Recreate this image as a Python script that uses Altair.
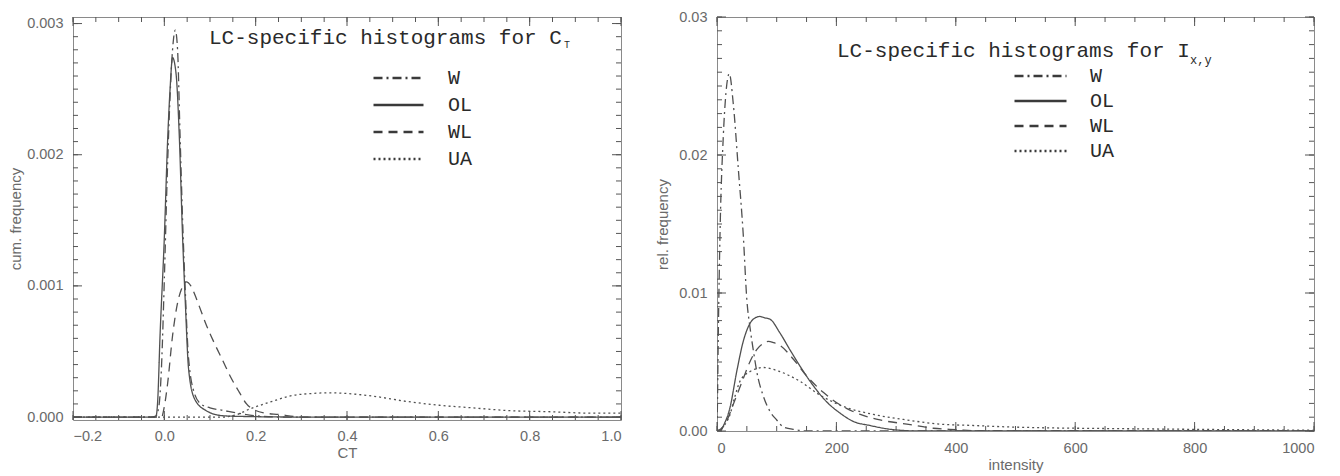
import altair as alt
import pandas as pd

SERIES = ["W", "OL", "WL", "UA"]
DASHES = [[9, 4, 2, 4], [1, 0], [9, 6], [2, 3]]

# ---- left panel: CT ----
ct_W_x = [-0.2, -0.02, -0.012, -0.006, 0.0, 0.006, 0.012, 0.018, 0.024, 0.029, 0.034, 0.040, 0.046, 0.053, 0.066, 0.08, 0.1, 0.13, 0.16, 0.2, 0.25, 1.0]
ct_W_y = [0, 0, 0.00008, 0.0004, 0.00105, 0.0018, 0.0024, 0.0028, 0.00295, 0.0028, 0.0022, 0.0015, 0.00095, 0.00045, 0.00018, 0.0001, 0.00007, 0.00005, 0.00003, 0.00001, 0, 0]
ct_OL_x = [-0.2, -0.03, -0.018, -0.0146, -0.0094, 0.0, 0.0073, 0.0124, 0.018, 0.0256, 0.033, 0.040, 0.046, 0.053, 0.066, 0.091, 0.128, 0.164, 0.3, 1.0]
ct_OL_y = [0, 0, 0.00001, 0.00012, 0.00062, 0.00137, 0.00212, 0.00249, 0.00274, 0.00262, 0.00212, 0.00137, 0.00087, 0.00037, 0.00014, 0.00005, 0.00001, 0.000005, 0, 0]
ct_WL_x = [-0.2, -0.006, 0.0, 0.007, 0.018, 0.029, 0.037, 0.048, 0.058, 0.066, 0.077, 0.091, 0.11, 0.128, 0.146, 0.164, 0.18, 0.2, 0.22, 0.25, 0.3, 1.0]
ct_WL_y = [0, 0, 0.00008, 0.00025, 0.00062, 0.00087, 0.00097, 0.00103, 0.001, 0.00094, 0.00084, 0.00071, 0.00056, 0.00043, 0.0003, 0.00019, 0.0001, 0.00005, 0.00003, 0.00002, 0, 0]
ct_UA_x = [-0.2, 0.13, 0.142, 0.16, 0.186, 0.21, 0.237, 0.274, 0.325, 0.36, 0.398, 0.456, 0.529, 0.602, 0.675, 0.75, 0.85, 0.93, 1.0]
ct_UA_y = [0, 0, 0.000005, 0.00002, 0.00006, 0.00009, 0.00012, 0.00016, 0.00018, 0.000185, 0.00018, 0.00016, 0.00012, 0.00009, 0.00007, 0.00005, 0.00004, 0.00003, 0.00003]

# ---- right panel: intensity ----
i_W_x = [0, 0.5, 2.2, 5, 10.6, 15, 20.6, 27.3, 35.7, 44, 50, 55.3, 61, 68, 77, 89, 100, 111, 130, 150, 1000]
i_W_y = [0, 0.0012, 0.0071, 0.0142, 0.0214, 0.0245, 0.0259, 0.0237, 0.019, 0.0142, 0.0095, 0.0075, 0.0058, 0.004, 0.0026, 0.0014, 0.0008, 0.0003, 0.0001, 0, 0]
i_OL_x = [0, 5, 12, 21.8, 33, 44, 55.3, 64, 72, 80, 88.8, 105.5, 122, 139, 161, 184, 206, 228, 256, 295, 340, 1000]
i_OL_y = [0, 0, 0.0005, 0.0017, 0.0043, 0.0065, 0.0078, 0.0082, 0.0083, 0.0082, 0.0081, 0.0071, 0.0059, 0.0047, 0.0033, 0.0021, 0.0013, 0.0007, 0.0004, 0.0001, 0, 0]
i_WL_x = [0, 8, 16, 27, 44, 55, 66.5, 76, 86, 95, 105.5, 128, 150, 178, 206, 240, 273, 318, 362, 400, 450, 1000]
i_WL_y = [0, 0.0002, 0.0007, 0.0019, 0.0038, 0.005, 0.0059, 0.0063, 0.0065, 0.0064, 0.0062, 0.0052, 0.004, 0.0028, 0.0019, 0.0012, 0.0008, 0.0005, 0.0002, 0.0001, 0, 0]
i_UA_x = [0, 10, 21.8, 30, 38.5, 55, 77.6, 105.5, 139, 172.5, 217, 262, 318, 373, 429, 485, 552, 650, 800, 1000]
i_UA_y = [0, 0.0003, 0.0012, 0.0025, 0.0036, 0.0043, 0.0046, 0.0043, 0.0036, 0.0026, 0.0017, 0.0012, 0.0008, 0.0005, 0.0004, 0.0003, 0.00023, 0.00018, 0.00012, 0.00005]

TITLE_CT = "LC-specific histograms for C"
SUB_CT = "T"
TITLE_I = "LC-specific histograms for I"
SUB_I = "x,y"

CT_XTICKS = [-0.2, 0.0, 0.2, 0.4, 0.6, 0.8, 1.0]
CT_XMINOR = [round(-0.2 + 0.05 * i, 3) for i in range(25)]
CT_YTICKS = [0.0, 0.001, 0.002, 0.003]
CT_YMINOR = [round(0.0001 * i, 5) for i in range(31)]
I_XTICKS = [0, 200, 400, 600, 800, 1000]
I_XMINOR = [50 * i for i in range(21)]
I_YTICKS = [0.0, 0.01, 0.02, 0.03]
I_YMINOR = [round(0.001 * i, 4) for i in range(31)]

W1, H1 = 548, 403
W2, H2 = 597, 414

LABEL_FONT = "Liberation Sans"
MONO = "Liberation Mono"
GREY = "#6a6a6a"


def long_df(parts):
    rows = []
    for name, xs, ys in parts:
        for a, b in zip(xs, ys):
            rows.append({"series": name, "x": a, "y": b})
    return pd.DataFrame(rows)


def axis(vals, fmt, title_pad, label_pad):
    return alt.Axis(values=vals, format=fmt, domain=False, ticks=False, grid=False,
                    labelFont=LABEL_FONT, labelFontSize=14.5, labelColor=GREY, labelPadding=label_pad,
                    titleFont=LABEL_FONT, titleFontSize=15, titleColor=GREY,
                    titleFontWeight="normal", titlePadding=title_pad)


def tick_layers(xmaj, xmin, ymaj, ymin, xenc, yenc, w, h):
    layers = []
    for vals, L in ((xmaj, 9), (xmin, 5)):
        base = alt.Chart(pd.DataFrame({"x": vals})).mark_rule(color="#555", strokeWidth=1)
        layers.append(base.encode(x=xenc, y=alt.value(h), y2=alt.value(h - L)))
        layers.append(base.encode(x=xenc, y=alt.value(0), y2=alt.value(L)))
    for vals, L in ((ymaj, 9), (ymin, 5)):
        base = alt.Chart(pd.DataFrame({"y": vals})).mark_rule(color="#555", strokeWidth=1)
        layers.append(base.encode(y=yenc, x=alt.value(0), x2=alt.value(L)))
        layers.append(base.encode(y=yenc, x=alt.value(w), x2=alt.value(w - L)))
    return layers


def legend(x, y, size, rowpad, offset):
    return alt.Legend(orient="none", legendX=x, legendY=y, title=None,
                      symbolType="stroke", symbolSize=size, symbolStrokeWidth=2.6,
                      symbolStrokeColor="#3a3a3a", labelFont=MONO, labelFontSize=20,
                      labelColor="#2a2a2a", rowPadding=rowpad, labelOffset=offset,
                      clipHeight=20, padding=0)


def text_layer(txt, x, y, size):
    return alt.Chart(pd.DataFrame({"t": [txt]})).mark_text(
        font=MONO, fontSize=size, color="#2a2a2a", align="left", baseline="alphabetic"
    ).encode(text="t:N", x=alt.value(x), y=alt.value(y))


dash_scale = alt.Scale(domain=SERIES, range=DASHES)

# left panel
ct_df = long_df([("W", ct_W_x, ct_W_y), ("OL", ct_OL_x, ct_OL_y),
                 ("WL", ct_WL_x, ct_WL_y), ("UA", ct_UA_x, ct_UA_y)])
ct_x = alt.X("x:Q", scale=alt.Scale(domain=[-0.2, 1.0], nice=False, zero=False),
             title="CT", axis=axis(CT_XTICKS, ".1f", 3, 9))
ct_y = alt.Y("y:Q", scale=alt.Scale(domain=[-0.0000225, 0.00305], nice=False, zero=False),
             title="cum. frequency", axis=axis(CT_YTICKS, ".3f", 3, 10))
ct_lines = alt.Chart(ct_df).mark_line(color="#505050", strokeWidth=1.3, interpolate="monotone", clip=True).encode(
    x=ct_x, y=ct_y,
    strokeDash=alt.StrokeDash("series:N", scale=dash_scale, legend=legend(299, 51, 2500, 7, 23)),
    order=alt.Order("x:Q"),
)
left = alt.layer(
    ct_lines,
    *tick_layers(CT_XTICKS, CT_XMINOR, CT_YTICKS, CT_YMINOR, ct_x, ct_y, W1, H1),
    text_layer(TITLE_CT, 136, 27, 21),
    text_layer(SUB_CT, 491, 31, 10),
).properties(width=W1, height=H1)

# right panel
i_df = long_df([("W", i_W_x, i_W_y), ("OL", i_OL_x, i_OL_y),
                ("WL", i_WL_x, i_WL_y), ("UA", i_UA_x, i_UA_y)])
i_x = alt.X("x:Q", scale=alt.Scale(domain=[0, 1000], nice=False, zero=False),
            title="intensity", axis=axis(I_XTICKS, "d", 3, 10))
i_y = alt.Y("y:Q", scale=alt.Scale(domain=[0, 0.03], nice=False, zero=False),
            title="rel. frequency", axis=axis(I_YTICKS, ".2f", 8, 10))
i_lines = alt.Chart(i_df).mark_line(color="#505050", strokeWidth=1.3, interpolate="monotone", clip=True).encode(
    x=i_x, y=i_y,
    strokeDash=alt.StrokeDash("series:N", scale=dash_scale, legend=legend(296, 49, 2704, 5, 22)),
    order=alt.Order("x:Q"),
)
right = alt.layer(
    i_lines,
    *tick_layers(I_XTICKS, I_XMINOR, I_YTICKS, I_YMINOR, i_x, i_y, W2, H2),
    text_layer(TITLE_I, 120, 40, 21),
    text_layer(SUB_I, 473, 47, 12),
).properties(width=W2, height=H2)

chart = alt.hconcat(left, right, spacing=33).resolve_scale(
    strokeDash="independent"
).resolve_legend(strokeDash="independent").properties(
    padding=0
).configure_view(stroke="#8a8a8a", strokeWidth=1)

chart.save("out.html", embed_options={"renderer": "svg", "actions": False})
